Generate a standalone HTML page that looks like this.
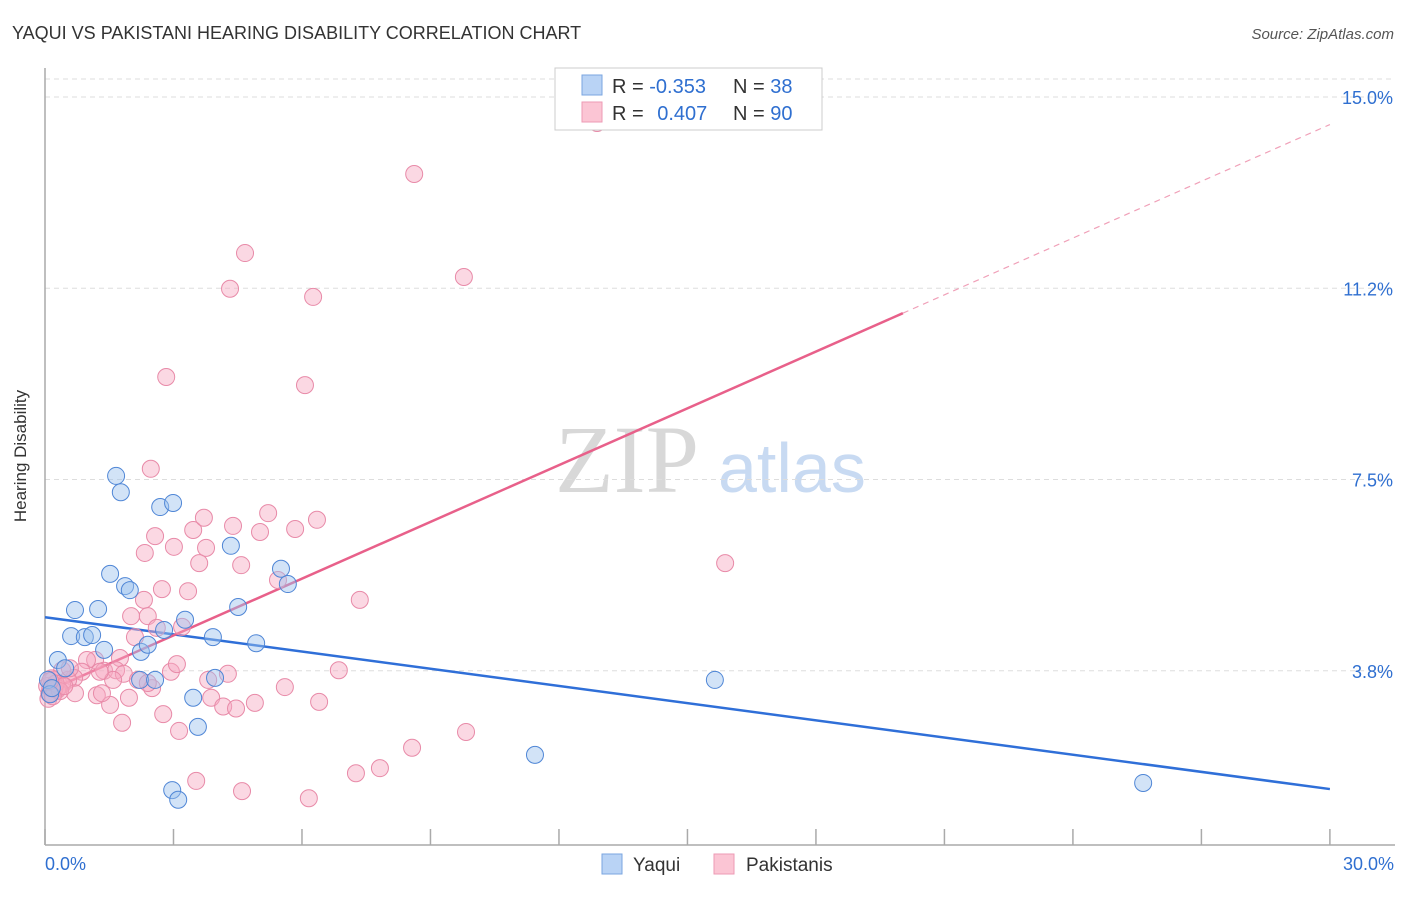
<!DOCTYPE html>
<html><head><meta charset="utf-8"><style>
body{margin:0;background:#fff;font-family:"Liberation Sans",sans-serif;}
</style></head><body>
<svg width="1406" height="892" xmlns="http://www.w3.org/2000/svg">
<text x="12" y="39" font-size="18" fill="#333">YAQUI VS PAKISTANI HEARING DISABILITY CORRELATION CHART</text>
<text x="1394" y="39" font-size="15" fill="#555" font-style="italic" text-anchor="end">Source: ZipAtlas.com</text>
<text x="555" y="492" font-size="96" fill="#d8d8d8" font-family="Liberation Serif,serif">ZIP</text>
<text x="718" y="492" font-size="70" fill="#c8daf2">atlas</text>
<g id="grid"></g>
<g id="axes"></g>
<g id="lines"></g>
<g id="pts"></g>
<text x="26" y="456" font-size="17" fill="#333" transform="rotate(-90 26 456)" text-anchor="middle">Hearing Disability</text>
<g>
<rect x="555" y="68" width="267" height="62" fill="#fff" stroke="#ccc"/>
<rect x="582" y="75" width="20" height="20" fill="#b9d3f5" stroke="#7aa6e0"/>
<rect x="582" y="102" width="20" height="20" fill="#fbc5d4" stroke="#ee9ab4"/>
<text x="612" y="93" font-size="20" fill="#333">R = <tspan fill="#2f6fd0">-0.353</tspan></text>
<text x="733" y="93" font-size="20" fill="#333">N = <tspan fill="#2f6fd0">38</tspan></text>
<text x="612" y="120" font-size="20" fill="#333">R = <tspan fill="#2f6fd0" dx="8">0.407</tspan></text>
<text x="733" y="120" font-size="20" fill="#333">N = <tspan fill="#2f6fd0">90</tspan></text>
</g>
<g>
<rect x="602" y="854" width="20" height="20" fill="#b9d3f5" stroke="#7aa6e0"/>
<text x="633" y="871" font-size="19" fill="#333">Yaqui</text>
<rect x="714" y="854" width="20" height="20" fill="#fbc5d4" stroke="#ee9ab4"/>
<text x="746" y="871" font-size="19" fill="#333">Pakistanis</text>
</g>
</svg>
<script>
const yTicks=[3.75,7.5,11.25,15];
const yTickLabels=["3.8%","7.5%","11.2%","15.0%"];
const xLabels=["0.0%","30.0%"];
const yaquiX=[1.66,1.77,2.69,2.99,1.52,1.87,1.98,0.70,1.24,4.34,4.51,5.51,5.67,3.27,2.78,0.61,0.93,1.10,1.38,2.24,2.40,3.92,4.93,0.30,0.47,0.07,2.22,2.57,3.97,3.46,3.57,2.97,3.11,11.44,15.64,25.64,0.12,0.16];
const yaquiY=[7.57,7.25,6.96,7.04,5.65,5.41,5.33,4.94,4.96,6.20,5.00,5.75,5.45,4.75,4.55,4.43,4.41,4.45,4.16,4.12,4.26,4.41,4.29,3.96,3.80,3.57,3.57,3.57,3.61,3.22,2.65,1.41,1.22,2.10,3.57,1.55,3.29,3.41];
const pakX=[12.89,8.62,4.67,9.78,4.32,6.26,2.83,6.07,2.47,2.57,2.33,3.01,3.46,3.71,3.76,3.60,4.39,5.02,5.21,5.84,6.35,4.58,5.44,2.73,3.34,2.31,2.01,2.40,2.10,2.61,3.20,7.35,15.88,1.75,1.17,1.38,1.66,1.84,2.94,3.08,1.59,2.17,2.50,1.96,0.98,0.86,0.68,0.54,0.40,0.28,0.70,1.21,1.52,1.80,2.76,3.13,3.88,4.16,4.46,4.90,3.81,4.27,5.60,6.40,6.86,9.83,8.57,7.82,7.26,3.53,4.60,6.16,0.19,0.30,0.12,0.40,0.58,1.33,2.40,1.28,0.05,0.10,0.15,0.22,0.08,0.25,0.35,0.18,0.45,0.12];
const pakY=[14.49,13.49,11.94,11.47,11.24,11.08,9.51,9.35,7.71,6.39,6.06,6.18,6.51,6.75,6.16,5.86,6.59,6.47,6.84,6.53,6.71,5.82,5.53,5.35,5.31,5.14,4.82,4.82,4.41,4.59,4.61,5.14,5.86,4.00,3.96,3.75,3.76,3.69,3.73,3.88,3.57,3.57,3.41,3.22,3.96,3.73,3.61,3.57,3.47,3.37,3.31,3.27,3.08,2.73,2.90,2.57,3.22,3.05,3.01,3.12,3.57,3.69,3.43,3.14,3.76,2.55,2.24,1.84,1.74,1.59,1.39,1.25,3.57,3.41,3.41,3.76,3.80,3.31,3.51,3.73,3.45,3.30,3.60,3.40,3.20,3.50,3.35,3.25,3.45,3.55];
const yaquiTrend=[4.80,1.43];
const pakTrend=[3.33,14.46];
const pakSolidEnd=20.03;
const sx=v=>45+v*42.83, sy=v=>862-v*51.0;
const NS="http://www.w3.org/2000/svg";
function mk(tag,attrs,parent){const e=document.createElementNS(NS,tag);for(const k in attrs)e.setAttribute(k,attrs[k]);document.getElementById(parent).appendChild(e);return e;}
yTicks.forEach((t,i)=>{
 const g=mk('line',{x1:45,x2:1395,y1:sy(t),y2:sy(t),stroke:'#ddd','stroke-dasharray':'5,4'},'grid');
 
 
 const l=mk('text',{x:1393,y:sy(t)+7,'font-size':18,fill:'#2f6fd0','text-anchor':'end'},'grid');
 l.textContent=yTickLabels[i];
 
 
});
const tl=mk('line',{x1:45,x2:1395,y1:79,y2:79,stroke:'#ddd','stroke-dasharray':'5,4'},'grid');


const ya=mk('line',{x1:45,x2:45,y1:68,y2:845,stroke:'#aaa','stroke-width':1.5},'axes');


const xa=mk('line',{x1:45,x2:1395,y1:845,y2:845,stroke:'#aaa','stroke-width':1.5},'axes');


for(let i=0;i<=10;i++){const v=i*3;const t=mk('line',{x1:sx(v),x2:sx(v),y1:829,y2:845,stroke:'#aaa','stroke-width':1.5},'axes');
 
 }
[[0,'start',45],[30,'end',1394]].forEach((p,i)=>{const t=mk('text',{x:p[2],y:870,'font-size':18,fill:'#2f6fd0','text-anchor':p[1]},'axes');t.textContent=xLabels[i];
 
 });
function dot(x,y,f,s,name){const c=mk('circle',{cx:sx(x),cy:sy(y),r:8.5,fill:f,stroke:s,'stroke-width':1,'fill-opacity':0.45},'pts');
 
 }
pakX.forEach((x,i)=>dot(x,pakY[i],'#f7a8c0','#e88aa8','pakistani-point'));
yaquiX.forEach((x,i)=>dot(x,yaquiY[i],'#9cc0ee','#4f86d6','yaqui-point'));
const b=mk('line',{x1:sx(0),y1:sy(yaquiTrend[0]),x2:sx(30),y2:sy(yaquiTrend[1]),stroke:'#2f6fd8','stroke-width':2.5},'lines');


const pm=v=>pakTrend[0]+(pakTrend[1]-pakTrend[0])*v/30;
const p1=mk('line',{x1:sx(0),y1:sy(pm(0)),x2:sx(pakSolidEnd),y2:sy(pm(pakSolidEnd)),stroke:'#e8608a','stroke-width':2.5},'lines');


const p2=mk('line',{x1:sx(pakSolidEnd),y1:sy(pm(pakSolidEnd)),x2:sx(30),y2:sy(pm(30)),stroke:'#f0a0b8','stroke-width':1.2,'stroke-dasharray':'6,5'},'lines');


</script>
</body></html>
